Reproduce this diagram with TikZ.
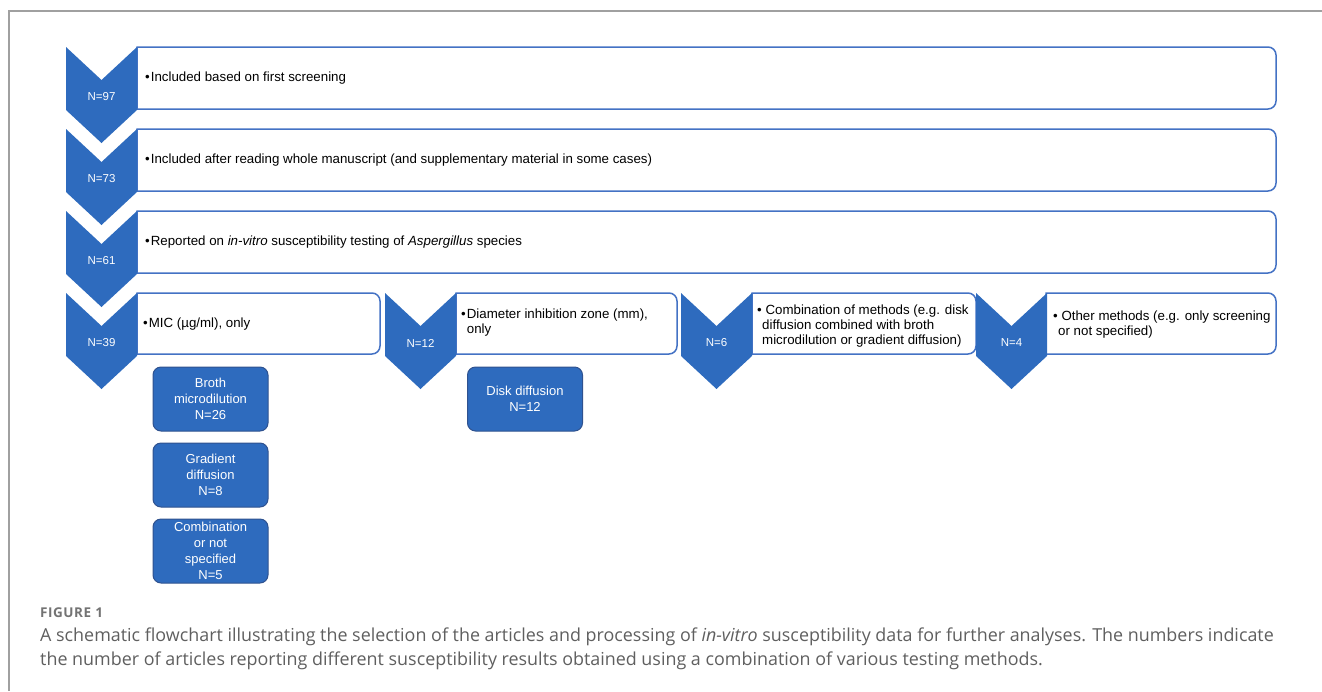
\documentclass[tikz,border=0pt]{standalone}
\usepackage{fontspec}
\setmainfont{Liberation Sans}
\newfontfamily\capfont{Open Sans}
\newfontfamily\figfont[LetterSpace=4]{Open Sans}
\definecolor{chev}{RGB}{46,107,190}
\definecolor{boxline}{RGB}{68,114,196}
\definecolor{sbline}{RGB}{47,82,143}
\definecolor{framegray}{RGB}{160,160,160}
\definecolor{capgray}{RGB}{95,95,95}
\definecolor{figgray}{RGB}{115,115,115}
\tikzset{
 chevfill/.style={fill=chev},
 chevlabel/.style={text=white, font=\fontsize{11.5}{13}\selectfont, inner sep=0},
 bigbox/.style={draw=boxline, line width=1.5pt},
 boxtext/.style={anchor=west, align=left, inner sep=0, font=\fontsize{13.3}{15}\selectfont},
 smallbox/.style={draw=sbline, fill=chev, rounded corners=8pt, text=white, align=center, minimum width=115pt, minimum height=64pt, inner sep=0, font=\fontsize{13}{16}\selectfont, line width=1pt},
 framestyle/.style={draw=framegray, line width=1.2pt},
 capstyle/.style={anchor=base west, inner sep=0, text=capgray, font=\capfont\fontsize{17.9}{22}\selectfont},
 figstyle/.style={anchor=base west, inner sep=0, text=figgray, font=\figfont\bfseries\fontsize{13.5}{15}\selectfont}
}
% #1 x1, #2 y1, #3 x2, #4 y2 (pixels, y downward)
\newcommand\myrbox[4]{%
 \draw[bigbox] (#1,-#4) -- (#1,-#2) -- (#3-8,-#2) arc[start angle=90,end angle=0,radius=8] -- (#3,-#4+8) arc[start angle=0,end angle=-90,radius=8] -- cycle;}
% #1 name, #2 left x, #3 top y, #4 label
\newcommand\mychev[4]{%
 \fill[chevfill] (#2,-#3) -- ++(35.5,-33) -- ++(35.5,33) -- ++(0,-63) -- ++(-35.5,-33) -- ++(-35.5,33) -- cycle;
 \node[chevlabel] (#1) at (#2+35.5,-#3-50) {#4};}
\begin{document}
\begin{tikzpicture}[x=1pt,y=1pt]
\useasboundingbox (0,0) rectangle (1322,-691);
\draw[framestyle] (9,-691) -- (9,-11) -- (1322,-11);
% big boxes
\myrbox{137}{47}{1276}{109}
\myrbox{137}{129}{1276}{191}
\myrbox{137}{211}{1276}{273}
\myrbox{137}{293}{380}{354}
\myrbox{456}{293}{677}{354}
\myrbox{752}{293}{976}{354}
\myrbox{1046}{293}{1276}{354}
% chevrons
\mychev{n97}{66}{47}{N=97}
\mychev{n73}{66}{129}{N=73}
\mychev{n61}{66}{211}{N=61}
\mychev{n39}{66}{293}{N=39}
\mychev{n12}{385}{293}{N=12}
\mychev{n6}{681}{293}{N=6}
\mychev{n4}{976}{293}{N=4}
% texts
\node[boxtext] (t1) at (145,-78) {•\hspace{1pt}Included based on first screening};
\node[boxtext] (t2) at (145,-160) {•\hspace{1pt}Included after reading whole manuscript (and supplementary material in some cases)};
\node[boxtext] (t3) at (145,-242) {•\hspace{1pt}Reported on \textit{in-vitro} susceptibility testing of \textit{Aspergillus} species};
\node[boxtext] (t4) at (143,-324) {•\hspace{1pt}MIC (µg/ml), only};
\node[boxtext] (t5) at (461,-323) {•\hspace{1pt}Diameter inhibition zone (mm),\\\phantom{•}\hspace{1pt}only};
\node[boxtext] (t6) at (757,-326) {• Combination of methods (e.g. disk\\\hspace*{5pt}diffusion combined with broth\\\hspace*{5pt}microdilution or gradient diffusion)};
\node[boxtext] (t7) at (1053,-325) {• Other methods (e.g. only screening\\\hspace*{5pt}or not specified)};
% small boxes
\node[smallbox] (broth) at (210.5,-399) {Broth\\microdilution\\N=26};
\node[smallbox] (grad) at (210.5,-475) {Gradient\\diffusion\\N=8};
\node[smallbox] (comb) at (210.5,-551) {Combination\\or not\\specified\\N=5};
\node[smallbox] (disk) at (525,-399) {Disk diffusion\\N=12};
% caption
\node[figstyle] (fig) at (40,-617) {FIGURE 1};
\node[capstyle] (cap1) at (40,-641) {A schematic flowchart illustrating the selection of the articles and processing of \textit{in-vitro} susceptibility data for further analyses. The numbers indicate};
\node[capstyle] (cap2) at (40,-665) {the number of articles reporting different susceptibility results obtained using a combination of various testing methods.};
\end{tikzpicture}
\end{document}
